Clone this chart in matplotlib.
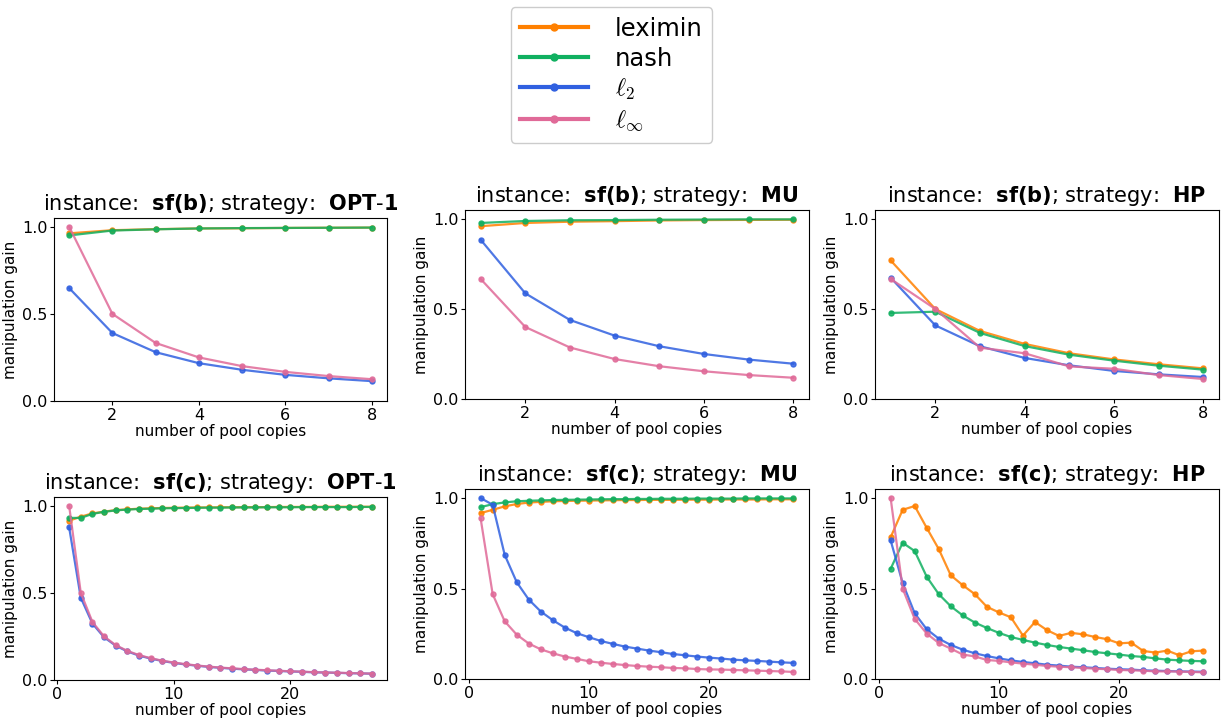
import matplotlib
matplotlib.use("Agg")
import matplotlib.pyplot as plt
from matplotlib.lines import Line2D
from matplotlib.ticker import MultipleLocator

plt.rcParams["font.family"] = ["DejaVu Sans"]
plt.rcParams["mathtext.fontset"] = "cm"

METHODS = ["leximin", "nash", "l2", "linf"]
LABELS = {"leximin": "leximin", "nash": "nash", "l2": r"$\ell_2$", "linf": r"$\ell_\infty$"}
COLORS = {"leximin": "#ff8000", "nash": "#10b060", "l2": "#3060e0", "linf": "#e06a98"}

x_b = [1, 2, 3, 4, 5, 6, 7, 8]
x_c = list(range(1, 28))

# sf(b)
b_opt1 = {
    "leximin": [0.962, 0.980, 0.986, 0.990, 0.991, 0.993, 0.994, 0.995],
    "nash": [0.950, 0.978, 0.985, 0.990, 0.992, 0.993, 0.994, 0.995],
    "l2": [0.648, 0.390, 0.280, 0.217, 0.179, 0.150, 0.130, 0.114],
    "linf": [1.0, 0.5, 0.333, 0.25, 0.2, 0.167, 0.143, 0.125],
}
b_mu = {
    "leximin": [0.960, 0.978, 0.985, 0.988, 0.992, 0.994, 0.995, 0.996],
    "nash": [0.978, 0.989, 0.993, 0.994, 0.996, 0.997, 0.998, 0.998],
    "l2": [0.885, 0.587, 0.439, 0.352, 0.293, 0.250, 0.219, 0.196],
    "linf": [0.667, 0.400, 0.286, 0.222, 0.182, 0.154, 0.133, 0.118],
}
b_hp = {
    "leximin": [0.770, 0.500, 0.378, 0.306, 0.254, 0.220, 0.193, 0.170],
    "nash": [0.478, 0.485, 0.367, 0.294, 0.246, 0.213, 0.185, 0.163],
    "l2": [0.674, 0.409, 0.293, 0.228, 0.187, 0.156, 0.137, 0.122],
    "linf": [0.667, 0.500, 0.285, 0.254, 0.181, 0.168, 0.133, 0.111],
}

# sf(c)
c_opt1 = {
    "leximin": [0.914, 0.937, 0.956, 0.966, 0.975, 0.979, 0.983, 0.985, 0.987,
                0.988, 0.989, 0.990, 0.990, 0.991, 0.991, 0.992, 0.992, 0.992,
                0.993, 0.993, 0.993, 0.993, 0.994, 0.994, 0.994, 0.994, 0.994],
    "nash": [0.930, 0.930, 0.953, 0.965, 0.973, 0.978, 0.981, 0.983, 0.985,
             0.986, 0.987, 0.988, 0.989, 0.989, 0.990, 0.990, 0.990, 0.991,
             0.991, 0.991, 0.992, 0.992, 0.992, 0.992, 0.992, 0.993, 0.993],
    "l2": [0.876, 0.472, 0.324, 0.245, 0.197, 0.164, 0.140, 0.123, 0.109,
           0.098, 0.089, 0.082, 0.075, 0.070, 0.065, 0.061, 0.058, 0.054,
           0.052, 0.049, 0.047, 0.044, 0.043, 0.041, 0.039, 0.038, 0.036],
    "linf": [1.0, 0.5, 0.333, 0.25, 0.2, 0.167, 0.143, 0.125, 0.111,
             0.1, 0.091, 0.083, 0.077, 0.071, 0.067, 0.0625, 0.059, 0.056,
             0.053, 0.05, 0.048, 0.045, 0.043, 0.042, 0.04, 0.038, 0.037],
}
c_mu = {
    "leximin": [0.917, 0.935, 0.954, 0.967, 0.975, 0.979, 0.982, 0.984, 0.985,
                0.986, 0.987, 0.988, 0.989, 0.989, 0.990, 0.990, 0.990, 0.991,
                0.991, 0.991, 0.992, 0.992, 0.992, 0.992, 0.993, 0.993, 0.993],
    "nash": [0.950, 0.966, 0.976, 0.982, 0.985, 0.987, 0.989, 0.990, 0.991,
             0.992, 0.993, 0.994, 0.994, 0.995, 0.995, 0.996, 0.996, 0.996,
             0.997, 0.997, 0.997, 0.997, 0.998, 0.998, 0.998, 0.998, 0.998],
    "l2": [1.0, 0.963, 0.686, 0.535, 0.439, 0.373, 0.325, 0.284, 0.253,
           0.231, 0.210, 0.194, 0.179, 0.168, 0.157, 0.148, 0.138, 0.131,
           0.124, 0.118, 0.113, 0.107, 0.103, 0.100, 0.096, 0.092, 0.089],
    "linf": [0.887, 0.469, 0.319, 0.245, 0.196, 0.164, 0.142, 0.124, 0.111,
             0.098, 0.090, 0.083, 0.077, 0.072, 0.068, 0.065, 0.061, 0.059,
             0.055, 0.053, 0.052, 0.050, 0.048, 0.046, 0.044, 0.042, 0.039],
}
c_hp = {
    "leximin": [0.783, 0.935, 0.956, 0.835, 0.718, 0.573, 0.518, 0.469, 0.399,
                0.368, 0.341, 0.240, 0.315, 0.270, 0.238, 0.255, 0.247, 0.232,
                0.220, 0.197, 0.201, 0.155, 0.146, 0.157, 0.131, 0.153, 0.157],
    "nash": [0.609, 0.753, 0.707, 0.565, 0.469, 0.402, 0.351, 0.312, 0.282,
             0.255, 0.232, 0.216, 0.201, 0.188, 0.177, 0.168, 0.159, 0.149,
             0.142, 0.135, 0.127, 0.122, 0.114, 0.107, 0.103, 0.100, 0.098],
    "l2": [0.766, 0.530, 0.363, 0.275, 0.223, 0.188, 0.162, 0.142, 0.127,
           0.114, 0.103, 0.094, 0.087, 0.079, 0.074, 0.068, 0.065, 0.061,
           0.057, 0.054, 0.052, 0.048, 0.046, 0.044, 0.042, 0.041, 0.040],
    "linf": [1.0, 0.5, 0.332, 0.251, 0.199, 0.168, 0.135, 0.125, 0.105,
             0.100, 0.092, 0.085, 0.079, 0.072, 0.068, 0.065, 0.061, 0.057,
             0.054, 0.050, 0.048, 0.046, 0.042, 0.042, 0.041, 0.039, 0.037],
}

PANELS = [
    ("b", "OPT-1", x_b, b_opt1),
    ("b", "MU", x_b, b_mu),
    ("b", "HP", x_b, b_hp),
    ("c", "OPT-1", x_c, c_opt1),
    ("c", "MU", x_c, c_mu),
    ("c", "HP", x_c, c_hp),
]

W, H = 1225, 725
# axes boxes in pixels: left, right, top, bottom
BOXES = [
    (54, 387, 218, 401), (465, 809, 210, 399), (875, 1219, 210, 399),
    (54, 387, 497, 680), (465, 809, 489, 679), (875, 1219, 489, 679),
]

fig = plt.figure(figsize=(W / 100, H / 100), dpi=100)

for (inst, strat, xs, data), (l, r, t, b) in zip(PANELS, BOXES):
    ax = fig.add_axes([l / W, 1 - b / H, (r - l) / W, (b - t) / H])
    for m in METHODS:
        ax.plot(xs, data[m], color=COLORS[m], lw=1.6, marker="o", ms=3.6, alpha=0.85)
    ax.set_ylim(0, 1.05)
    ax.set_yticks([0, 0.5, 1.0])
    ax.xaxis.set_major_locator(MultipleLocator(2 if len(xs) < 10 else 10))
    ax.tick_params(labelsize=11.5, length=3, pad=1.8)
    ax.set_ylabel("manipulation gain", fontsize=11, labelpad=3)
    ax.set_xlabel("number of pool copies", fontsize=11, labelpad=1)
    strat_tex = r"$\mathbf{OPT}$-$\mathbf{1}$" if strat == "OPT-1" else r"$\mathbf{%s}$" % strat
    ax.set_title(r"instance:  $\mathbf{sf(%s)}$; strategy:  " % inst + strat_tex,
                 fontsize=15, math_fontfamily="dejavusans", pad=6)

handles = [Line2D([0], [0], color=COLORS[m], lw=3, marker="o", ms=5) for m in METHODS]
fig.legend(handles, [LABELS[m] for m in METHODS], loc="upper center",
           bbox_to_anchor=(611.5 / W, 1 - 7 / H), borderaxespad=0, fontsize=17.5,
           labelspacing=0.25, handlelength=2.8, handletextpad=1.1,
           framealpha=1, edgecolor="#cccccc")

fig.savefig("out.png", dpi=100)
